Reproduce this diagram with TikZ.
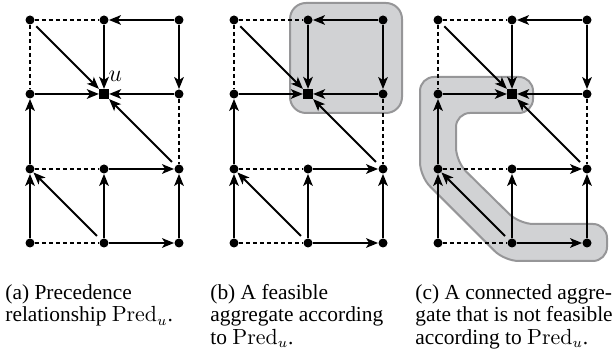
\documentclass[tikz,border=0pt]{standalone}
\usepackage[no-math]{fontspec}
\setmainfont{Liberation Serif}
\usetikzlibrary{arrows.meta}
\definecolor{regfill}{RGB}{209,210,212}
\definecolor{regdraw}{RGB}{150,150,152}
\tikzset{
  dotnode/.style={circle,fill=black,inner sep=0pt,minimum size=4.5pt},
  sqnode/.style={rectangle,fill=black,inner sep=0pt,minimum size=4.7pt},
  arr/.style={-{Stealth[length=6pt,width=4.8pt,inset=1.5pt]},line width=1pt},
  dsh/.style={dash pattern=on 2.2pt off 1.3pt,line width=1pt},
  region/.style={fill=regfill,draw=regdraw,line width=1pt},
  captext/.style={anchor=north west,inner sep=0pt,align=left,font=\fontsize{10.7}{11.25}\selectfont},
}
\newcommand\gridnodes[1]{%
  \foreach \i/\x in {0/30,1/104,2/179}{\foreach \j/\y in {0/20,1/94,2/169,3/243}{%
    \ifnum\i\j=11 \node[sqnode] (#1\i\j) at (\x,\y) {};%
    \else \node[dotnode] (#1\i\j) at (\x,\y) {};\fi}}%
}
\newcommand\gridedges[1]{%
  \draw[dsh] (#100) -- (#110);
  \draw[arr] (#120) -- (#110);
  \draw[dsh] (#100) -- (#101);
  \draw[arr,shorten <=2pt] (#100) -- (#111);
  \draw[arr] (#110) -- (#111);
  \draw[arr] (#120) -- (#121);
  \draw[arr] (#101) -- (#111);
  \draw[arr] (#121) -- (#111);
  \draw[dsh] (#121) -- (#122);
  \draw[arr,shorten <=2.5pt] (#122) -- (#111);
  \draw[arr] (#102) -- (#101);
  \draw[dsh] (#102) -- (#112);
  \draw[arr] (#112) -- (#122);
  \draw[arr] (#103) -- (#102);
  \draw[arr,shorten <=2.5pt] (#113) -- (#102);
  \draw[arr] (#113) -- (#112);
  \draw[arr] (#123) -- (#122);
  \draw[dsh] (#103) -- (#113);
  \draw[arr] (#113) -- (#123);
}
\begin{document}
\begin{tikzpicture}[x=0.5pt,y=-0.5pt]
\useasboundingbox (0,0) rectangle (615,356);
% panel (a)
\begin{scope}
  \gridnodes{a}
  \gridedges{a}
  \node[font=\fontsize{12.5}{14}\selectfont,inner sep=0pt] (ulab) at ([xshift=5.7pt,yshift=8.8pt]a11.center) {$u$};
\end{scope}
% panel (b)
\begin{scope}[shift={(204,0)}]
  \draw[region,rounded corners=8pt] (86,3) rectangle (198,113);
  \gridnodes{b}
  \gridedges{b}
\end{scope}
% panel (c)
\begin{scope}[shift={(408,0)}]
  \draw[region,rounded corners=7pt] (125,77) -- (12,77) -- (12,176.4) -- (96.6,261) -- (199,261)
     -- (199,224) -- (111.4,224) -- (48,161.6) -- (48,113) -- (125,113) -- cycle;
  \gridnodes{c}
  \gridedges{c}
\end{scope}
% captions
\node[captext] (capa) at (5,284) {(a) Precedence\\relationship $\mathrm{Pred}_u$.};
\node[captext] (capb) at (210,284) {(b) A feasible\\aggregate according\\to $\mathrm{Pred}_u$.};
\node[captext] (capc) at (415,284) {(c) A connected aggre-\\gate that is not feasible\\according to $\mathrm{Pred}_u$.};
\end{tikzpicture}
\end{document}
